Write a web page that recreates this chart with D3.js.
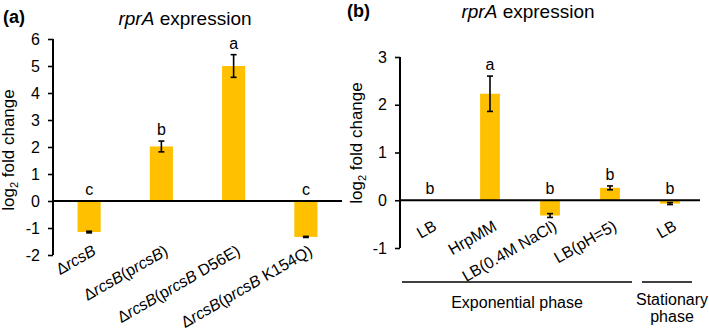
<!DOCTYPE html>
<html>
<head>
<meta charset="utf-8">
<script src="https://cdn.jsdelivr.net/npm/d3@7"></script>
<style>
  body { margin: 0; background: #fff; }
  svg { font-family: Arial, "Liberation Sans", sans-serif; }
</style>
</head>
<body>
<div class="container"></div>
<script>
// panel (a)
const catsA = ['ΔrcsB', 'ΔrcsB(prcsB)', 'ΔrcsB(prcsB D56E)', 'ΔrcsB(prcsB K154Q)']
const valsA = [-1.15, 2.02, 5.0, -1.33]
const errA = [0.03, 0.2, 0.42, 0.02]
const lettersA = ['c', 'b', 'a', 'c']
const ticksA = [-2, -1, 0, 1, 2, 3, 4, 5, 6]

// panel (b)
const catsB = ['LB', 'HrpMM', 'LB(0.4M NaCl)', 'LB(pH=5)', 'LB']
const valsB = [0, 2.23, -0.32, 0.26, -0.07]
const errB = [0, 0.37, 0.04, 0.04, 0.02]
const lettersB = ['b', 'a', 'b', 'b', 'b']
const ticksB = [-1, 0, 1, 2, 3]
const groupNamesB = [['Exponential phase'], ['Stationary', 'phase']]
const groupFirstB = [0, 4]
const groupLastB = [3, 4]

const barColor = '#FFC000'

const svg = d3.select('.container')
    .append('svg')
    .attr('width', 709)
    .attr('height', 330)

const drawPanel = (p) => {
    const g = svg.append('g')

    const yScale = d3.scaleLinear()
        .domain([p.ticks[0], p.ticks[p.ticks.length - 1]])
        .range([p.bottom, p.top])

    const xScale = d3.scaleBand()
        .domain(d3.range(p.cats.length))
        .range([p.left, p.right])
        .paddingInner(p.pad)
        .paddingOuter(p.pad / 2)

    const cx = i => xScale(i) + xScale.bandwidth() / 2

    // bars
    g.selectAll('rect.bar')
        .data(p.vals)
        .enter()
        .append('rect')
        .attr('class', 'bar')
        .attr('x', (d, i) => xScale(i))
        .attr('width', xScale.bandwidth())
        .attr('y', d => yScale(Math.max(0, d)))
        .attr('height', d => Math.abs(yScale(d) - yScale(0)))
        .attr('fill', barColor)

    // error bars
    const eb = g.selectAll('g.err')
        .data(p.vals.map((v, i) => ({ v, e: p.err[i], i })).filter(d => d.e > 0))
        .enter()
        .append('g')
        .attr('stroke', '#000')
        .attr('stroke-width', 1.6)
    eb.append('line')
        .attr('x1', d => cx(d.i)).attr('x2', d => cx(d.i))
        .attr('y1', d => yScale(d.v - d.e)).attr('y2', d => yScale(d.v + d.e))
    eb.append('line')
        .attr('x1', d => cx(d.i) - 3).attr('x2', d => cx(d.i) + 3)
        .attr('y1', d => yScale(d.v - d.e)).attr('y2', d => yScale(d.v - d.e))
    eb.append('line')
        .attr('x1', d => cx(d.i) - 3).attr('x2', d => cx(d.i) + 3)
        .attr('y1', d => yScale(d.v + d.e)).attr('y2', d => yScale(d.v + d.e))

    // significance letters
    g.selectAll('text.letter')
        .data(p.letters)
        .enter()
        .append('text')
        .attr('x', (d, i) => cx(i))
        .attr('y', (d, i) => yScale(Math.max(0, p.vals[i] + p.err[i])) - 6)
        .attr('text-anchor', 'middle')
        .attr('font-size', 16)
        .text(d => d)

    // y axis
    const yAxis = g.append('g')
        .attr('transform', `translate(${p.left},0)`)
        .call(d3.axisLeft(yScale).tickValues(p.ticks).tickSize(5).tickPadding(8).tickFormat(d3.format('d')))
    yAxis.select('.domain').attr('stroke-width', 2).attr('d', `M0,${p.bottom}V${p.top}`)
    yAxis.selectAll('.tick line').attr('stroke-width', 1.6)
    yAxis.selectAll('.tick text')
        .attr('font-size', 16)
        .attr('font-family', 'Arial, "Liberation Sans", sans-serif')
        .attr('fill', '#000')
        .text(d => d < 0 ? '-' + Math.abs(d) : d)

    // x axis line at zero
    g.append('line')
        .attr('x1', p.left).attr('x2', p.right)
        .attr('y1', yScale(0)).attr('y2', yScale(0))
        .attr('stroke', '#000')
        .attr('stroke-width', 2)

    // category labels
    const labelY = p.labelAtBottom ? yScale(p.ticks[0]) - 11 : yScale(0) + 19
    const lab = g.selectAll('text.cat')
        .data(p.cats)
        .enter()
        .append('text')
        .attr('text-anchor', 'end')
        .attr('font-size', 16)
        .attr('dy', '0.72em')
        .attr('transform', (d, i) => `translate(${cx(i) + 2},${labelY}) rotate(-30)`)
    lab.each(function (d) {
        const t = d3.select(this)
        d.split(/(rcsB)/).filter(s => s.length).forEach(s => {
            t.append('tspan')
                .attr('font-style', s === 'rcsB' ? 'italic' : 'normal')
                .text(s)
        })
    })

    // y title
    const yt = g.append('text')
        .attr('transform', `translate(${p.yTitleX},${p.yTitleY}) rotate(-90)`)
        .attr('text-anchor', 'middle')
        .attr('font-size', 17)
    yt.append('tspan').text('log')
    yt.append('tspan').attr('font-size', 11).attr('dy', 4).text('2')
    yt.append('tspan').attr('dy', -4).text(' fold change')

    // chart title
    const tt = g.append('text')
        .attr('x', p.titleX)
        .attr('y', p.titleY)
        .attr('text-anchor', 'middle')
        .attr('font-size', 19)
    tt.append('tspan').attr('font-style', 'italic').text('rprA')
    tt.append('tspan').text(' expression')

    // panel letter
    g.append('text')
        .attr('x', p.tagX)
        .attr('y', p.tagY)
        .attr('font-size', 18)
        .attr('font-weight', 'bold')
        .text(p.tag)

    return { xScale, yScale }
}

drawPanel({
    cats: catsA, vals: valsA, err: errA, letters: lettersA, ticks: ticksA,
    left: 53, right: 342, top: 39, bottom: 255, pad: 0.68,
    labelAtBottom: true,
    yTitleX: 14, yTitleY: 150,
    titleX: 185, titleY: 25,
    tag: '(a)', tagX: 3, tagY: 23
})

const pb = drawPanel({
    cats: catsB, vals: valsB, err: errB, letters: lettersB, ticks: ticksB,
    left: 400, right: 700, top: 57, bottom: 248, pad: 0.67,
    labelAtBottom: false,
    yTitleX: 362, yTitleY: 143,
    titleX: 528, titleY: 18,
    tag: '(b)', tagX: 347, tagY: 17
})

// group brackets under panel (b)
const step = pb.xScale.step()
groupNamesB.forEach((name, k) => {
    const x1 = pb.xScale(groupFirstB[k]) - (step - pb.xScale.bandwidth()) / 2 + 2
    const x2 = pb.xScale(groupLastB[k]) + pb.xScale.bandwidth() + (step - pb.xScale.bandwidth()) / 2 - 8
    svg.append('line')
        .attr('x1', x1).attr('x2', x2)
        .attr('y1', 282).attr('y2', 282)
        .attr('stroke', '#000')
        .attr('stroke-width', 1.3)
    const t = svg.append('text')
        .attr('text-anchor', 'middle')
        .attr('font-size', 16)
    name.forEach((line, j) => {
        t.append('tspan')
            .attr('x', (x1 + x2) / 2 + (name.length > 1 ? 5 : 0))
            .attr('y', name.length > 1 ? 305 + j * 17 : 308)
            .text(line)
    })
})
</script>
</body>
</html>
